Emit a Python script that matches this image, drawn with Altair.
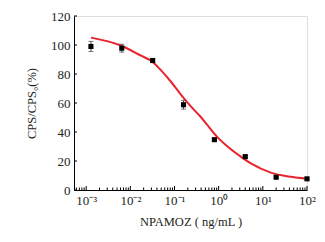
import altair as alt
import pandas as pd

# measured points
conc = [0.00128, 0.0064, 0.032, 0.16, 0.8, 4, 20, 100]
ratio = [99.0, 97.8, 89.3, 58.8, 34.7, 23.0, 8.8, 7.7]
err = [3.5, 2.7, 1.0, 3.0, 0.8, 0.8, 0.6, 0.6]

# fitted curve
curve_x = [0.00129, 0.00589, 0.0170, 0.0324, 0.0479, 0.0813, 0.138, 0.229,
           0.389, 0.533, 0.902, 1.52, 3.33, 5.37, 15.1, 43.7, 100]
curve_y = [105.1, 99.8, 92.8, 88.2, 83.0, 75.0, 66.0, 58.0,
           50.5, 45.5, 37.0, 30.5, 22.5, 18.3, 12.0, 9.1, 7.8]

x_major = [0.001, 0.01, 0.1, 1, 10, 100]
x_minor = [m * 10 ** k for k in range(-4, 2) for m in range(2, 10)]
y_ticks = [0, 20, 40, 60, 80, 100, 120]

XMIN, XMAX = 5.3e-4, 100
x_minor = [v for v in x_minor if XMIN <= v <= XMAX]

W, H = 233, 174
FONT = "Liberation Serif"
TXT = "#231f20"

pts = pd.DataFrame({"x": conc, "y": ratio,
                    "lo": [r - e for r, e in zip(ratio, err)],
                    "hi": [r + e for r, e in zip(ratio, err)]})
crv = pd.DataFrame({"x": curve_x, "y": curve_y})

xscale = alt.Scale(type="log", domain=[XMIN, XMAX], nice=False)
yscale = alt.Scale(domain=[0, 120], nice=False)

xaxis = alt.Axis(
    values=x_major,
    labelExpr="'10' + ['⁻³','⁻²','⁻¹','⁰','¹','²'][round(log(datum.value)/LN10)+3]",
    title="NPAMOZ ( ng/mL )", titleX=W / 2, titleY=31.5)
yaxis = alt.Axis(
    values=y_ticks, tickCount=7,
    title="CPS/CPS₀(%)", titleX=-43, titleY=H / 2, titleAngle=270)

line = alt.Chart(crv).mark_line(color="#e8232b", strokeWidth=2,
                                interpolate="monotone").encode(
    x=alt.X("x:Q", scale=xscale, axis=xaxis),
    y=alt.Y("y:Q", scale=yscale, axis=yaxis))

ebar = alt.Chart(pts).mark_rule(color="#444", strokeWidth=1).encode(
    x=alt.X("x:Q", scale=xscale),
    y=alt.Y("lo:Q", scale=yscale), y2="hi:Q")
cap_lo = alt.Chart(pts).mark_tick(color="#444", thickness=1, size=5,
                                  orient="horizontal").encode(
    x=alt.X("x:Q", scale=xscale),
    y=alt.Y("lo:Q", scale=yscale))
cap_hi = alt.Chart(pts).mark_tick(color="#444", thickness=1, size=5,
                                  orient="horizontal").encode(
    x=alt.X("x:Q", scale=xscale),
    y=alt.Y("hi:Q", scale=yscale))
sq = alt.Chart(pts).mark_square(color="black", size=26, opacity=1).encode(
    x=alt.X("x:Q", scale=xscale),
    y=alt.Y("y:Q", scale=yscale))

maj = alt.Chart(pd.DataFrame({"x": x_major})).mark_rule(color="black").encode(
    x=alt.X("x:Q", scale=xscale), y=alt.value(H), y2=alt.value(H - 4))
mnr = alt.Chart(pd.DataFrame({"x": x_minor})).mark_rule(color="black").encode(
    x=alt.X("x:Q", scale=xscale), y=alt.value(H), y2=alt.value(H - 2.5))
ytk = alt.Chart(pd.DataFrame({"y": y_ticks})).mark_rule(color="black").encode(
    y=alt.Y("y:Q", scale=yscale), x=alt.value(0), x2=alt.value(3))

chart = alt.layer(line, mnr, maj, ytk, ebar, cap_lo, cap_hi, sq).properties(
    width=W, height=H,
    autosize=alt.AutoSizeParams(type="none"),
    padding={"left": 74, "top": 16, "right": 18, "bottom": 52},
).configure_view(stroke=None).configure(background="white").configure_axis(
    ticks=False, grid=False, domainColor="black",
    labelOverlap=False, labelFlush=False,
    labelFont=FONT, labelFontSize=13, labelColor=TXT, labelPadding=4,
    titleFont=FONT, titleFontSize=12.5, titleFontWeight="normal",
    titleColor=TXT, titleBaseline="middle", titleAlign="center")

chart.save("out.html", embed_options={"renderer": "svg", "actions": False})
